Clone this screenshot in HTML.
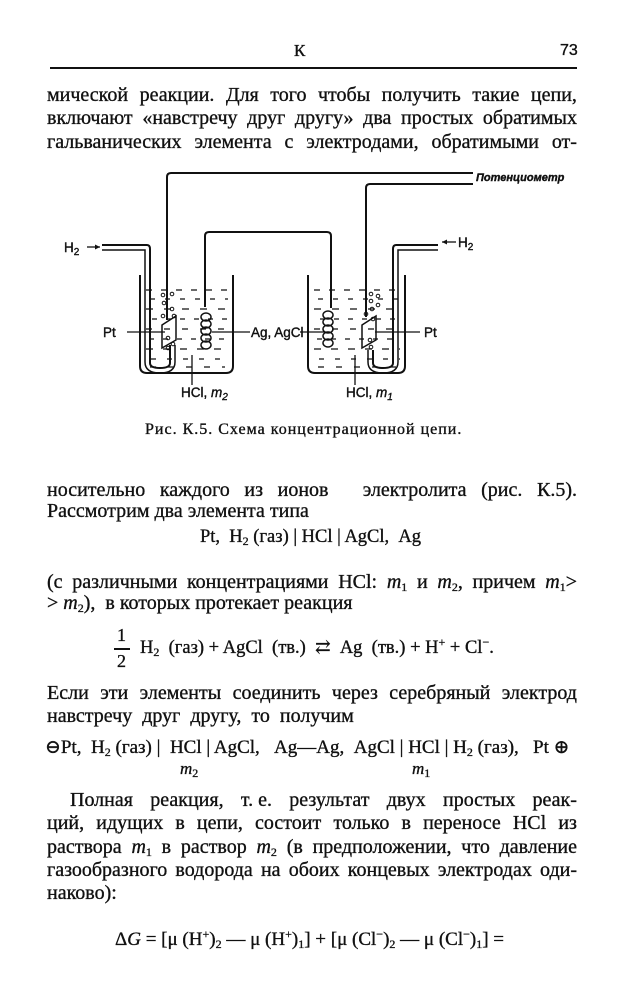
<!DOCTYPE html>
<html><head><meta charset="utf-8">
<style>
body{margin:0;background:#fff;}
#p{position:relative;width:625px;height:1000px;overflow:hidden;background:#fff;color:#111;font-family:"Liberation Serif","DejaVu Serif",serif;-webkit-text-stroke:0.35px #111;}
.l{position:absolute;left:47px;width:530px;font-size:20px;line-height:24px;white-space:nowrap;}
.j{display:flex;justify-content:space-between;}
.c{position:absolute;font-size:18px;line-height:22px;white-space:nowrap;}
i{font-style:italic;}
sub{font-size:12px;vertical-align:-3px;line-height:0;}
sup{font-size:12px;vertical-align:7px;line-height:0;}
svg text{font-family:"Liberation Sans",sans-serif;}
</style></head><body><div id="p">
<div class="c" style="left:294px;top:40px;font-size:17px">К</div>
<div class="c" style="left:560px;top:40px;font-family:'Liberation Sans',sans-serif;font-size:16px">73</div>
<div style="position:absolute;left:50px;top:67px;width:527px;height:2px;background:#111"></div>

<div class="l j" style="top:83px"><span>мической</span><span>реакции.</span><span>Для</span><span>того</span><span>чтобы</span><span>получить</span><span>такие</span><span>цепи,</span></div>
<div class="l j" style="top:106px"><span>включают</span><span>«навстречу</span><span>друг</span><span>другу»</span><span>два</span><span>простых</span><span>обратимых</span></div>
<div class="l j" style="top:130px"><span>гальванических</span><span>элемента</span><span>с</span><span>электродами,</span><span>обратимыми</span><span>от-</span></div>

<svg style="position:absolute;left:0;top:0" width="625" height="420" fill="none" stroke="#111" stroke-width="2">
<path d="M140 275 V366 Q140 373 147 373 H226 Q233 373 233 366 V275"/>
<path d="M308 275 V366 Q308 373 315 373 H398 Q405 373 405 366 V275"/>
<g stroke-width="1.3">
<path d="M146 290H228" stroke-dasharray="6 9"/><path d="M150 299H228" stroke-dasharray="5 10"/><path d="M146 309H228" stroke-dasharray="7 11"/><path d="M152 319H228" stroke-dasharray="5 9"/><path d="M146 329H228" stroke-dasharray="6 12"/><path d="M149 339H228" stroke-dasharray="5 9"/><path d="M146 349H228" stroke-dasharray="7 10"/><path d="M151 359H228" stroke-dasharray="5 11"/><path d="M150 367H225" stroke-dasharray="6 12"/>
<path d="M314 290H400" stroke-dasharray="6 9"/><path d="M318 299H400" stroke-dasharray="5 10"/><path d="M314 309H400" stroke-dasharray="7 11"/><path d="M320 319H400" stroke-dasharray="5 9"/><path d="M314 329H400" stroke-dasharray="6 12"/><path d="M317 339H400" stroke-dasharray="5 9"/><path d="M314 349H400" stroke-dasharray="7 10"/><path d="M319 359H400" stroke-dasharray="5 11"/><path d="M318 367H397" stroke-dasharray="6 12"/>
</g>
<path d="M167 320 V177 Q167 173 171 173 H473"/>
<path d="M366 317 V188 Q366 184 370 184 H473"/>
<path d="M205 307 V236 Q205 232 209 232 H327 Q331 232 331 236 V308"/>
<path d="M102 245 H147 Q150 245 150 249 V363 Q150 368 160 368 Q170 368 170 363 V345" />
<path d="M102 250 H145 V362 Q145 373 160 373 Q175 373 175 362 V345" stroke-width="1.5"/>
<path d="M438 245 H396 Q393 245 393 249 V363 Q393 368 383 368 Q373 368 373 363 V350"/>
<path d="M438 250 H398 V362 Q398 373 383 373 Q368 373 368 362 V350" stroke-width="1.5"/>
<path d="M162 325 L176 316 L176 340 L162 348 Z" stroke-width="1.5"/>
<path d="M362 325 L376 316 L376 340 L362 348 Z" stroke-width="1.5"/>
<g stroke-width="1.5">
<ellipse cx="206" cy="317" rx="5" ry="4"/><ellipse cx="206" cy="324" rx="5" ry="4"/><ellipse cx="206" cy="331" rx="5" ry="4"/><ellipse cx="206" cy="338" rx="5" ry="4"/><ellipse cx="206" cy="345" rx="5" ry="4"/>
<ellipse cx="328" cy="315" rx="5" ry="4"/><ellipse cx="328" cy="322" rx="5" ry="4"/><ellipse cx="328" cy="329" rx="5" ry="4"/><ellipse cx="328" cy="336" rx="5" ry="4"/><ellipse cx="328" cy="343" rx="5" ry="4"/>
</g>
<g stroke-width="1">
<circle cx="163" cy="295" r="1.8"/><circle cx="172" cy="294" r="1.8"/><circle cx="164" cy="303" r="1.8"/><circle cx="172" cy="309" r="1.8"/><circle cx="163" cy="316" r="1.8"/><circle cx="174" cy="316" r="1.8"/><circle cx="168" cy="338" r="1.8"/><circle cx="173" cy="344" r="1.8"/><circle cx="168" cy="348" r="1.8"/>
<circle cx="371" cy="294" r="1.8"/><circle cx="378" cy="296" r="1.8"/><circle cx="371" cy="301" r="1.8"/><circle cx="378" cy="305" r="1.8"/><circle cx="372" cy="309" r="1.8"/><circle cx="366" cy="314" r="1.8"/><circle cx="373" cy="319" r="1.8"/><circle cx="370" cy="340" r="1.8"/><circle cx="371" cy="347" r="1.8"/>
</g>
<g stroke-width="1.3">
<path d="M127 332 H165"/><path d="M212 332 H250"/><path d="M300 332 H330"/><path d="M375 332 H420"/>
<path d="M87 247 H100"/><path d="M442 242 H456"/>
<path d="M192 355 V385"/><path d="M355 355 V385"/>
</g>
<path d="M100 247 l-5 -2.5 v5z M442 242 l5 -2.5 v5z" fill="#111" stroke="none"/>
<g fill="#111" stroke="#111" stroke-width="0.4" font-size="13.5">
<text x="64" y="252">H<tspan font-size="10" dy="3">2</tspan></text>
<text x="458" y="247">H<tspan font-size="10" dy="3">2</tspan></text>
<text x="103" y="337">Pt</text>
<text x="251" y="337">Ag, AgCl</text>
<text x="424" y="337">Pt</text>
<text x="181" y="397">HCl, <tspan font-style="italic">m</tspan><tspan font-size="10" dy="3" font-style="italic">2</tspan></text>
<text x="346" y="397">HCl, <tspan font-style="italic">m</tspan><tspan font-size="10" dy="3" font-style="italic">1</tspan></text>
<text x="476" y="181" font-size="11" font-style="italic" font-weight="bold">Потенциометр</text>
</g>
</svg>

<div class="c" style="left:145px;top:419px;font-size:16px;letter-spacing:1px">Рис. К.5. Схема концентрационной цепи.</div>

<div class="l j" style="top:478px"><span>носительно</span><span>каждого</span><span>из</span><span>ионов</span><span>&nbsp;</span><span>электролита</span><span>(рис.</span><span>К.5).</span></div>
<div class="c" style="left:47px;top:500px;font-size:20px">Рассмотрим два элемента типа</div>
<div class="c" style="left:200px;top:526px;font-size:18.5px">Pt, &nbsp;H<sub>2</sub> (газ) | HCl | AgCl, &nbsp;Ag</div>

<div class="l j" style="top:570px"><span>(с</span><span>различными</span><span>концентрациями</span><span>HCl:</span><span><i>m</i><sub>1</sub></span><span>и</span><span><i>m</i><sub>2</sub>,</span><span>причем</span><span><i>m</i><sub>1</sub>&gt;</span></div>
<div class="c" style="left:47px;top:592px;font-size:20px">&gt; <i>m</i><sub>2</sub>), &nbsp;в которых протекает реакция</div>

<div class="c" style="left:117px;top:624px;font-size:18px">1</div>
<div style="position:absolute;left:114px;top:648px;width:16px;height:1.5px;background:#111"></div>
<div class="c" style="left:117px;top:650px;font-size:18px">2</div>
<div class="c" style="left:140px;top:637px;font-size:18.5px">H<sub>2</sub> &nbsp;(газ) + AgCl &nbsp;(тв.) &nbsp;⇄ &nbsp;Ag &nbsp;(тв.) + H<sup>+</sup> + Cl<sup>−</sup>.</div>

<div class="l j" style="top:681px"><span>Если</span><span>эти</span><span>элементы</span><span>соединить</span><span>через</span><span>серебряный</span><span>электрод</span></div>
<div class="c" style="left:47px;top:705px;font-size:20px">навстречу &nbsp;друг &nbsp;другу, &nbsp;то &nbsp;получим</div>

<div class="c" style="left:45px;top:737px;font-size:19px">⊖Pt, &nbsp;H<sub>2</sub> (газ) | &nbsp;HCl | AgCl, &nbsp;&nbsp;Ag—Ag, &nbsp;AgCl | HCl | H<sub>2</sub> (газ), &nbsp;&nbsp;Pt ⊕</div>
<div class="c" style="left:180px;top:758px;font-size:17px"><i>m</i><sub>2</sub></div>
<div class="c" style="left:412px;top:758px;font-size:17px"><i>m</i><sub>1</sub></div>

<div class="l j" style="top:788px;left:70px;width:507px"><span>Полная</span><span>реакция,</span><span>т. е.</span><span>результат</span><span>двух</span><span>простых</span><span>реак-</span></div>
<div class="l j" style="top:811px"><span>ций,</span><span>идущих</span><span>в</span><span>цепи,</span><span>состоит</span><span>только</span><span>в</span><span>переносе</span><span>HCl</span><span>из</span></div>
<div class="l j" style="top:835px"><span>раствора</span><span><i>m</i><sub>1</sub></span><span>в</span><span>раствор</span><span><i>m</i><sub>2</sub></span><span>(в</span><span>предположении,</span><span>что</span><span>давление</span></div>
<div class="l j" style="top:858px"><span>газообразного</span><span>водорода</span><span>на</span><span>обоих</span><span>концевых</span><span>электродах</span><span>оди-</span></div>
<div class="c" style="left:47px;top:882px;font-size:20px">наково):</div>

<div class="c" style="left:115px;top:929px;font-size:19px">Δ<i>G</i> = [μ (H<sup>+</sup>)<sub>2</sub> — μ (H<sup>+</sup>)<sub>1</sub>] + [μ (Cl<sup>−</sup>)<sub>2</sub> — μ (Cl<sup>−</sup>)<sub>1</sub>] =</div>
</div></body></html>
